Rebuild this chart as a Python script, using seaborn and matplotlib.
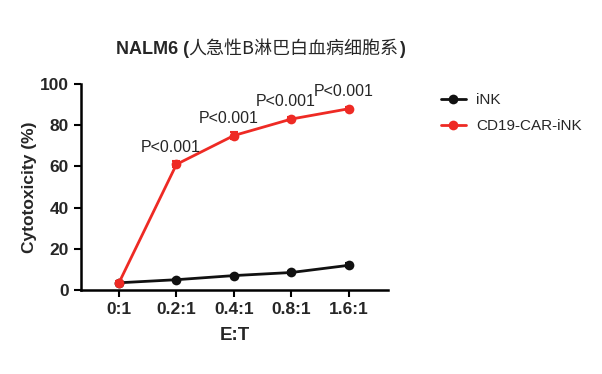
import matplotlib
matplotlib.use("Agg")
import matplotlib.pyplot as plt
import seaborn as sns
import pandas as pd
from matplotlib.offsetbox import TextArea, HPacker, AnchoredOffsetbox
from matplotlib.lines import Line2D

# data
ratios = ["0:1", "0.2:1", "0.4:1", "0.8:1", "1.6:1"]
ink_mean = [3.5, 5.0, 7.0, 8.5, 12.0]
ink_err = [0.5, 0.4, 0.4, 0.5, 1.0]
car_mean = [3.5, 61.0, 75.0, 83.0, 88.0]
car_err = [0.8, 1.5, 1.6, 1.0, 0.7]
pvals = ["P<0.001", "P<0.001", "P<0.001", "P<0.001"]

sns.set_style("ticks")
plt.rcParams["font.family"] = ["Liberation Sans", "Noto Sans CJK SC", "DejaVu Sans"]

pos = list(range(len(ratios)))
df = pd.DataFrame({
    "pos": pos * 2,
    "val": ink_mean + car_mean,
    "group": ["iNK"] * 5 + ["CD19-CAR-iNK"] * 5,
})
colors = {"iNK": "#111111", "CD19-CAR-iNK": "#ee2a24"}

fig = plt.figure(figsize=(6.02, 3.74), dpi=100)
ax = fig.add_axes([0.1346, 0.2246, 0.51, 0.5508])

sns.lineplot(data=df, x="pos", y="val", hue="group", palette=colors,
             marker="o", markersize=7, markeredgewidth=0, linewidth=2,
             legend=False, ax=ax, zorder=3)
ax.errorbar(pos, ink_mean, yerr=ink_err, fmt="none", ecolor=colors["iNK"],
            elinewidth=1.5, capsize=3, capthick=1.5, zorder=2)
ax.errorbar(pos, car_mean, yerr=car_err, fmt="none", ecolor=colors["CD19-CAR-iNK"],
            elinewidth=1.5, capsize=3, capthick=1.5, zorder=4)

for i, p in enumerate(pvals):
    ax.annotate(p, (pos[i + 1], car_mean[i + 1]), xytext=(-4, 7),
                textcoords="offset points", ha="center", va="bottom", fontsize=11.5)

ax.set_xlim(-0.66, 4.68)
ax.set_ylim(0, 100)
ax.set_xticks(pos)
ax.set_xticklabels(ratios)
ax.set_yticks([0, 20, 40, 60, 80, 100])
for lab in ax.get_xticklabels() + ax.get_yticklabels():
    lab.set_fontweight("bold")
    lab.set_fontsize(12.5)
ax.tick_params(direction="out", length=5, width=1.5, color="black", pad=4)
ax.set_xlabel("E:T", fontsize=13.5, fontweight="bold", labelpad=7)
ax.set_ylabel("Cytotoxicity (%)", fontsize=12.5, fontweight="bold", labelpad=2)
for s in ["left", "bottom"]:
    ax.spines[s].set_linewidth(1.8)
    ax.spines[s].set_color("black")
sns.despine(ax=ax)

handles = [Line2D([], [], color=colors[g], marker="o", markersize=7,
                  markeredgewidth=0, linewidth=2) for g in ["iNK", "CD19-CAR-iNK"]]
fig.legend(handles, ["iNK", "CD19-CAR-iNK"], loc="upper left",
           bbox_to_anchor=(0.71, 0.787), frameon=False, fontsize=11,
           handlelength=1.6, handletextpad=0.7, labelspacing=0.75)

# title: bold latin parts, regular CJK part
parts = [
    TextArea("NALM6 (", textprops=dict(fontsize=13, fontweight="bold")),
    TextArea("人急性B淋巴白血病细胞系", textprops=dict(fontsize=13, family=["Noto Sans CJK SC", "DejaVu Sans"])),
    TextArea(")", textprops=dict(fontsize=13, fontweight="bold")),
]
box = HPacker(children=parts, align="baseline", pad=0, sep=0)
anc = AnchoredOffsetbox(loc="center", child=box, frameon=False,
                        bbox_to_anchor=(0.432, 0.87), bbox_transform=fig.transFigure, pad=0)
fig.add_artist(anc)

fig.savefig("out.png", dpi=100)
